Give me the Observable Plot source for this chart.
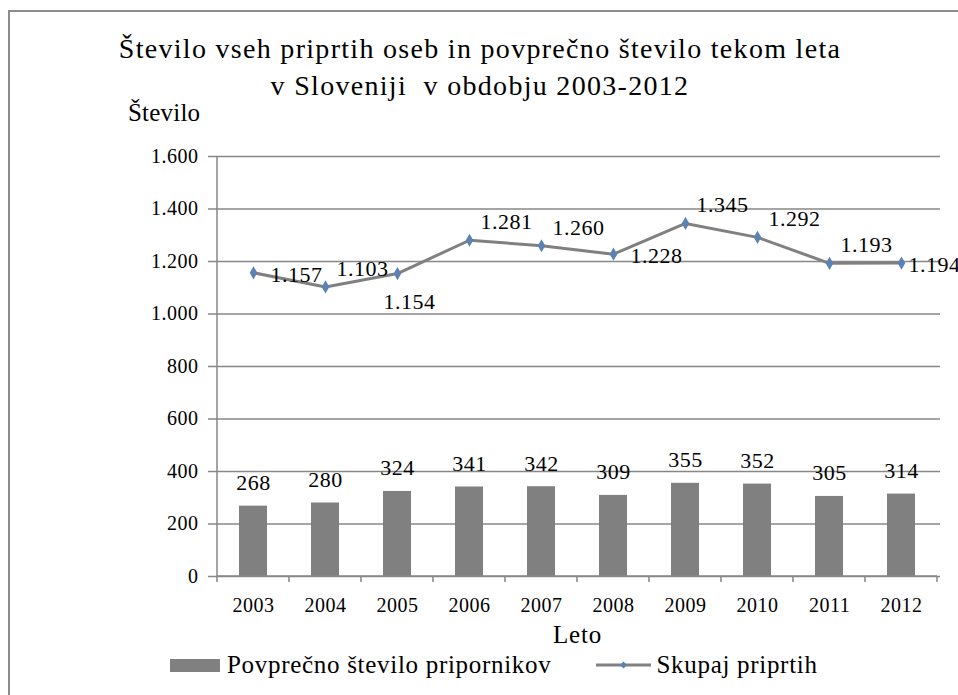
<!DOCTYPE html>
<html>
<head>
<meta charset="utf-8">
<script src="https://cdn.jsdelivr.net/npm/d3@7"></script>
<script src="https://cdn.jsdelivr.net/npm/@observablehq/plot@0.6"></script>
<style>
  body { margin: 0; background: #fff; }
  #wrap { position: relative; width: 958px; height: 695px; overflow: hidden;
          font-family: "Liberation Serif", "Times New Roman", serif; color: #000; background: #fff; }
  #frame { position: absolute; left: 8px; top: 10px; width: 1200px; height: 1200px;
           border-left: 2px solid #8c8c8c; border-top: 2px solid #8c8c8c; }
  #title { position: absolute; left: 0; top: 30px; width: 960px; text-align: center;
           font-size: 28px; line-height: 37px; letter-spacing: 1.3px; white-space: pre; }
  #ylab { position: absolute; left: 128px; top: 99px; font-size: 25px; letter-spacing: 0.2px; line-height: 28px; }
  #xlab { position: absolute; left: 0; width: 1155px; top: 621px; text-align: center; font-size: 25px; letter-spacing: 0.8px; line-height: 28px; }
  #chart { position: absolute; left: 0; top: 0; }
  #legend { position: absolute; left: 170px; top: 649px; font-size: 25px; letter-spacing: 0.7px; line-height: 28px; white-space: nowrap; }
  .lg { display: inline-flex; align-items: center; vertical-align: middle; }
  .sw-bar { display: inline-block; width: 50px; height: 13px; background: #808080; margin-right: 7px; }
  .sw-line { display: inline-block; width: 55px; height: 14px; margin-right: 5px; }
</style>
</head>
<body>
<div id="wrap">
  <div id="frame"></div>
  <div id="chart"></div>
  <div id="title"></div>
  <div id="ylab"></div>
  <div id="xlab"></div>
  <div id="legend"></div>
</div>
<script>
// ---- data ----
const years = ["2003","2004","2005","2006","2007","2008","2009","2010","2011","2012"];
const avgDetainees = [268, 280, 324, 341, 342, 309, 355, 352, 305, 314];
const totalDetained = [1157, 1103, 1154, 1281, 1260, 1228, 1345, 1292, 1193, 1194];
const totalLabelPlacement = ["right","upright","below","upright","upright","right","upright","upright","upright","edge"];
const yTicks = [0, 200, 400, 600, 800, 1000, 1200, 1400, 1600];
const titleLines = ["Število vseh priprtih oseb in povprečno število tekom leta", "v Sloveniji  v obdobju 2003-2012"];
const yAxisTitle = "Število";
const xAxisTitle = "Leto";
const seriesNames = ["Povprečno število pripornikov", "Skupaj priprtih"];

// ---- build ----
const locale = d3.formatLocale({decimal: ",", thousands: ".", grouping: [3], currency: ["", ""]});
const fmt = locale.format(",d");
const rows = years.map((y, i) => ({year: y, avg: avgDetainees[i], total: totalDetained[i], place: totalLabelPlacement[i]}));

const gray = "#808080";
const gridGray = "#878787";
const markerBlue = "#5b82b5";

// custom mark: axis lines and category boundary ticks
function axisLines(index, scales, values, dims) {
  const x = scales.x, y = scales.y;
  const step = x(years[1]) - x(years[0]);
  const left = x(years[0]) + x.bandwidth() / 2 - step / 2;
  const right = x(years[years.length - 1]) + x.bandwidth() / 2 + step / 2;
  const y0 = y(0), yTop = y(1600);
  const g = d3.create("svg:g").attr("stroke", gridGray).attr("stroke-width", 1.5).attr("fill", "none");
  g.append("line").attr("x1", left).attr("x2", left).attr("y1", yTop).attr("y2", y0 + 6);
  g.append("line").attr("x1", left).attr("x2", right).attr("y1", y0).attr("y2", y0);
  years.forEach(yr => {
    const bx = x(yr) + x.bandwidth() / 2 + step / 2;
    g.append("line").attr("x1", bx).attr("x2", bx).attr("y1", y0).attr("y2", y0 + 6);
  });
  return g.node();
}

const placeOffsets = {
  right:   {dx: 17, dy: 2,   anchor: "start"},
  upright: {dx: 37, dy: -18, anchor: "middle"},
  below:   {dx: 12, dy: 28,  anchor: "middle"},
  edge:    {dx: 7,  dy: 2,   anchor: "start"}
};
const totalLabelMarks = Object.entries(placeOffsets).map(([k, o]) =>
  Plot.text(rows.filter(d => d.place === k), {
    x: "year", y: "total", text: d => fmt(d.total), dx: o.dx, dy: o.dy,
    fontSize: 22, fill: "#000", textAnchor: o.anchor
  })
);

const chart = Plot.plot({
  width: 958,
  height: 695,
  marginLeft: 215,
  marginRight: 18,
  marginTop: 156,
  marginBottom: 119,
  style: {fontFamily: "'Liberation Serif', 'Times New Roman', serif", fontSize: "20px", letterSpacing: "0.5px", color: "#000", background: "transparent", overflow: "visible"},
  x: {type: "band", domain: years, paddingInner: 0.61, paddingOuter: 0.305},
  y: {domain: [0, 1600]},
  marks: [
    Plot.gridY(yTicks, {stroke: gridGray, strokeOpacity: 1, strokeWidth: 1.5}),
    Plot.axisY({ticks: yTicks, tickFormat: fmt, tickSize: 7, tickPadding: 10, stroke: gridGray, strokeWidth: 1.5, label: null}),
    Plot.axisX({tickSize: 0, tickPadding: 21, label: null}),
    Plot.barY(rows, {x: "year", y: "avg", fill: gray}),
    axisLines,
    Plot.text(rows, {x: "year", y: "avg", text: d => fmt(d.avg), dy: -23, fontSize: 22, fill: "#000", style: {letterSpacing: "0.8px"}}),
    Plot.line(rows, {x: "year", y: "total", stroke: gray, strokeWidth: 3}),
    Plot.dot(rows, {x: "year", y: "total", symbol: "diamond", r: 4, fill: markerBlue, stroke: null}),
    ...totalLabelMarks
  ]
});
document.getElementById("chart").appendChild(chart);

document.getElementById("title").textContent = titleLines.join("\n");
document.getElementById("ylab").textContent = yAxisTitle;
document.getElementById("xlab").textContent = xAxisTitle;

const legend = document.getElementById("legend");
legend.innerHTML =
  `<span class="lg"><span class="sw-bar"></span><span>${seriesNames[0]}</span></span>` +
  `<span class="lg" style="margin-left:45px"><svg class="sw-line" viewBox="0 0 55 14"><line x1="0" x2="55" y1="7" y2="7" stroke="${gray}" stroke-width="3"/><path d="M27.5,3.5L31,7L27.5,10.5L24,7Z" fill="${markerBlue}"/></svg><span>${seriesNames[1]}</span></span>`;
</script>
</body>
</html>
